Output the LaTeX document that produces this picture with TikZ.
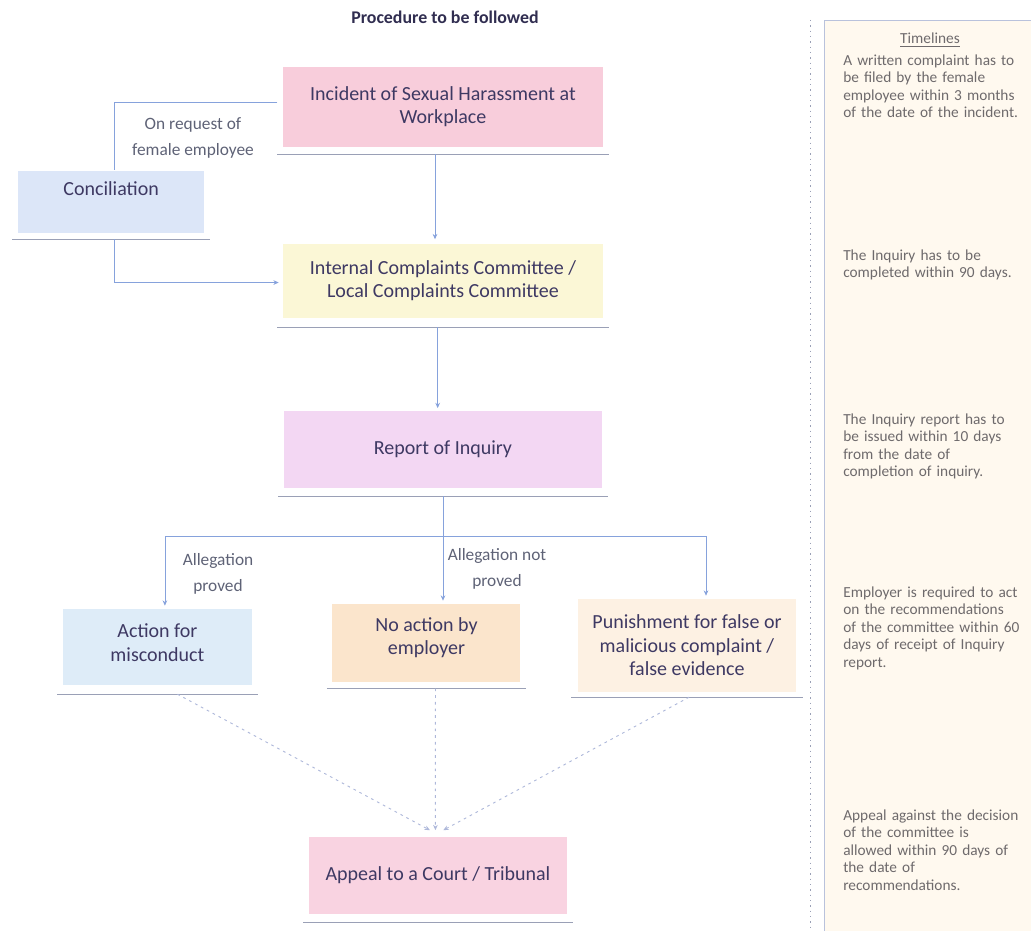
\documentclass[tikz,border=0pt]{standalone}
\usepackage{fontspec}
\setmainfont{Carlito}
\usetikzlibrary{positioning, arrows.meta}

\definecolor{incidentfill}{HTML}{F8CDDB}
\definecolor{iccfill}{HTML}{FBF7D6}
\definecolor{reportfill}{HTML}{F3D7F3}
\definecolor{concfill}{HTML}{DCE6F8}
\definecolor{actionfill}{HTML}{DEECF8}
\definecolor{noactfill}{HTML}{FBE5CC}
\definecolor{punishfill}{HTML}{FDF1E3}
\definecolor{appealfill}{HTML}{F9D3E1}
\definecolor{panelfill}{HTML}{FFF9EF}
\definecolor{panelline}{HTML}{B9C2DC}
\definecolor{linkblue}{HTML}{86A2DC}
\definecolor{dashblue}{HTML}{AEB8DA}
\definecolor{undergray}{HTML}{9AA0B6}
\definecolor{boxtext}{HTML}{3E3963}
\definecolor{labeltext}{HTML}{5E6276}
\definecolor{notetext}{HTML}{6E6A6C}
\definecolor{titletext}{HTML}{302D50}

\begin{document}
\begin{tikzpicture}[
  x=0.75pt, y=-0.75pt,
  mybox/.style={
     rectangle,
     inner sep=0pt,
     align=center,
     text=boxtext,
     font=\fontsize{15}{17.5}\selectfont},
  mylabel/.style={align=center, text=labeltext, font=\fontsize{13}{19}\selectfont},
  mynote/.style={anchor=base west, align=left, text width=140pt, inner sep=0pt,
     text=notetext, font=\fontsize{11.5}{13.2}\selectfont},
  myline/.style={draw=linkblue, line width=0.6pt},
  myarrow/.style={myline, -{Stealth[length=4pt,width=3.5pt]}},
  mydash/.style={draw=dashblue, line width=0.7pt, dash pattern=on 2pt off 3pt,
     -{Stealth[length=4pt,width=3.5pt]}},
  myunder/.style={draw=undergray, line width=0.6pt}
  ]
  \useasboundingbox (0,0) rectangle (1031,931);

  % timelines panel
  \fill[panelfill] (824,20) rectangle (1031,931);
  \draw[panelline, line width=0.6pt] (1031,20) -- (824,20) -- (824,931);
  \draw[undergray, line width=0.6pt, dash pattern=on 1pt off 3pt] (810,20) -- (810,931);

  \node[font=\fontsize{13.4}{16}\selectfont\bfseries, text=titletext] (title) at (445,17) {Procedure to be followed};

  % main flow
  \node[mybox, fill=incidentfill, minimum width=240pt, minimum height=60pt] (incident) at (443,107)
     {Incident of Sexual Harassment at\\Workplace};
  \node[mybox, fill=iccfill, minimum width=240pt, minimum height=55.5pt, below=72pt of incident] (icc)
     {Internal Complaints Committee /\\Local Complaints Committee};
  \node[mybox, fill=reportfill, minimum width=239pt, minimum height=57.75pt, below=69.75pt of icc] (report)
     {Report of Inquiry};
  \node[mybox, fill=concfill, minimum width=140pt, minimum height=46.5pt, text depth=20pt,
     below left=17.25pt and 58.5pt of incident] (conc) {Conciliation};

  % outcomes
  \node[mybox, fill=noactfill, minimum width=141pt, minimum height=58.5pt, text depth=10pt,
     below=86.25pt of report, xshift=-12.4pt] (noact) {No action by\\employer};
  \node[mybox, fill=actionfill, minimum width=141.75pt, minimum height=57pt, text depth=6pt,
     left=60pt of noact, yshift=-3pt] (action) {Action for\\misconduct};
  \node[mybox, fill=punishfill, minimum width=163.5pt, minimum height=69.75pt,
     right=42.75pt of noact, yshift=-1.9pt] (punish) {Punishment for false or\\malicious complaint /\\false evidence};
  \node[mybox, fill=appealfill, minimum width=194pt, minimum height=57.75pt,
     below=116.25pt of noact, xshift=8.6pt] (appeal) {Appeal to a Court / Tribunal};

  % underlines
  \draw[myunder] ([xshift=-4pt,yshift=-5pt]incident.south west) -- ([xshift=4pt,yshift=-5pt]incident.south east);
  \draw[myunder] ([xshift=-4pt,yshift=-7pt]icc.south west) -- ([xshift=4pt,yshift=-7pt]icc.south east);
  \draw[myunder] ([xshift=-4pt,yshift=-6pt]report.south west) -- ([xshift=4pt,yshift=-6pt]report.south east);
  \draw[myunder] ([xshift=-4pt,yshift=-5pt]conc.south west) -- ([xshift=4pt,yshift=-5pt]conc.south east);
  \draw[myunder] ([xshift=-4pt,yshift=-7pt]action.south west) -- ([xshift=4pt,yshift=-7pt]action.south east);
  \draw[myunder] ([xshift=-4pt,yshift=-5pt]noact.south west) -- ([xshift=4pt,yshift=-5pt]noact.south east);
  \draw[myunder] ([xshift=-5pt,yshift=-4pt]punish.south west) -- ([xshift=5pt,yshift=-4pt]punish.south east);
  \draw[myunder] ([xshift=-4pt,yshift=-6pt]appeal.south west) -- ([xshift=4pt,yshift=-6pt]appeal.south east);

  % labels
  \node[mylabel] (request) at (193,138) {On request of\\female employee};
  \node[mylabel] (proved) at (218,574) {Allegation\\proved};
  \node[mylabel] (notproved) at (497,569) {Allegation not\\proved};

  % edges
  \draw[myline] ([xshift=-4pt,yshift=3.75pt]incident.west) -| ([xshift=2.6pt]conc.north);
  \draw[myarrow] ([xshift=2.6pt,yshift=-5pt]conc.south) |- ([xshift=-3pt,yshift=-1.5pt]icc.west);
  \draw[myarrow] ([xshift=-6pt,yshift=-5pt]incident.south) -- ([xshift=-6pt,yshift=3pt]icc.north);
  \draw[myarrow] ([xshift=-4pt,yshift=-7pt]icc.south) -- ([xshift=-4pt,yshift=2pt]report.north);

  \coordinate (split) at ([yshift=-36pt]report.south);
  \draw[myline] ([yshift=-6pt]report.south) -- (split);
  \draw[myarrow] (split) -| ([xshift=5.6pt,yshift=2pt]action.north);
  \draw[myarrow] (split) -- ([yshift=2pt]split |- noact.north);
  \draw[myarrow] (split) -| ([xshift=14.25pt,yshift=2pt]punish.north);

  \draw[mydash] ([xshift=15pt,yshift=-7pt]action.south) -- ([xshift=-6pt,yshift=5pt]appeal.north);
  \draw[mydash] ([xshift=6.75pt,yshift=-5pt]noact.south) -- ([xshift=-1.9pt,yshift=5pt]appeal.north);
  \draw[mydash] ([xshift=1.5pt,yshift=-4pt]punish.south) -- ([xshift=4pt,yshift=5pt]appeal.north);

  % timelines text
  \node[font=\fontsize{11.5}{14}\selectfont, text=notetext] (tlhead) at (930,40) {\underline{Timelines}};
  \node[mynote] (tl1) at (843,65) {A written complaint has to\\be filed by the female\\employee within 3 months\\of the date of the incident.};
  \node[mynote] (tl2) at (843,260) {The Inquiry has to be\\completed within 90 days.};
  \node[mynote] (tl3) at (843,424) {The Inquiry report has to\\be issued within 10 days\\from the date of\\completion of inquiry.};
  \node[mynote] (tl4) at (843,597) {Employer is required to act\\on the recommendations\\of the committee within 60\\days of receipt of Inquiry\\report.};
  \node[mynote] (tl5) at (843,820) {Appeal against the decision\\of the committee is\\allowed within 90 days of\\the date of\\recommendations.};

\end{tikzpicture}
\end{document}
